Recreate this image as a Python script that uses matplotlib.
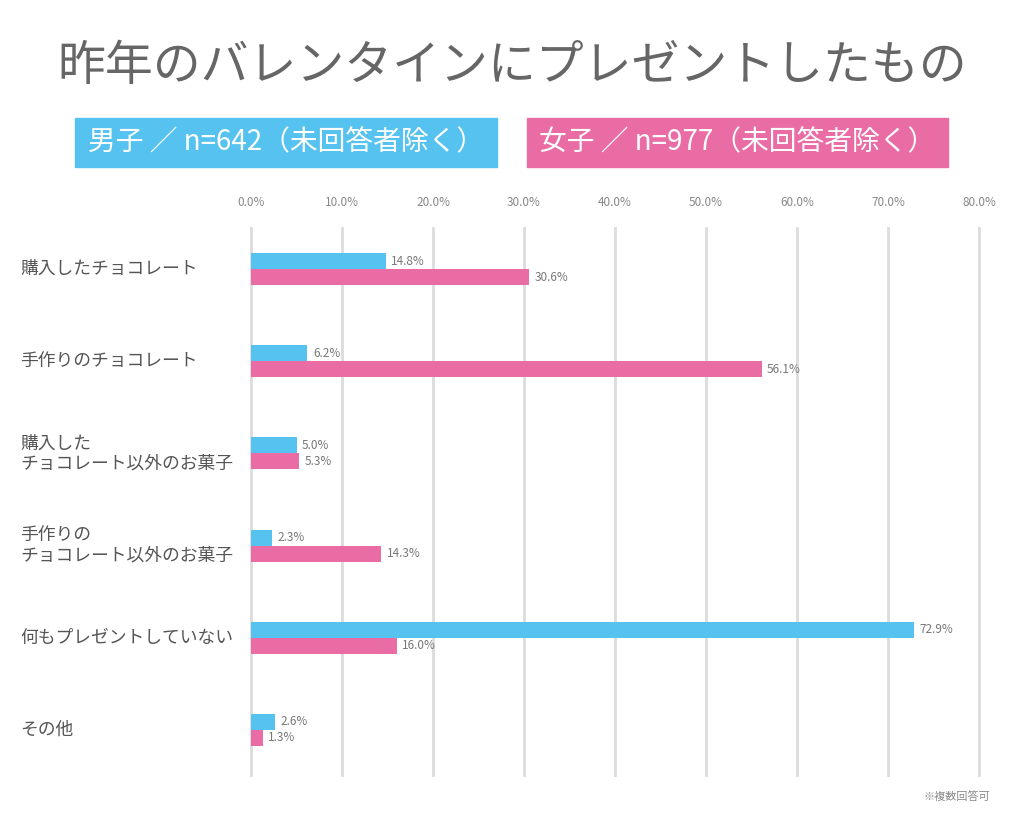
import numpy as np
import matplotlib
matplotlib.use('Agg')
import matplotlib.pyplot as plt
import matplotlib.transforms as mtransforms
from matplotlib.patches import Rectangle

plt.rcParams['font.family'] = ['Noto Sans CJK JP', 'DejaVu Sans']

# data ======================================================================
categories = ['購入したチョコレート', '手作りのチョコレート', '購入した\nチョコレート以外のお菓子',
              '手作りの\nチョコレート以外のお菓子', '何もプレゼントしていない', 'その他']
men = [14.8, 6.2, 5.0, 2.3, 72.9, 2.6]
women = [30.6, 56.1, 5.3, 14.3, 16.0, 1.3]
xticks = [0, 10, 20, 30, 40, 50, 60, 70, 80]

title = '昨年のバレンタインにプレゼントしたもの'
men_label = '男子 ／ n=642（未回答者除く）'
women_label = '女子 ／ n=977（未回答者除く）'
note = '※複数回答可'

blue = '#55C2F0'
pink = '#E96CA4'

# figure ====================================================================
W, H = 1024, 819
fig = plt.figure(figsize=(W / 100, H / 100), dpi=100)
ax = fig.add_axes([251 / W, 1 - 775 / H, 728 / W, (775 - 228) / H])

y = np.arange(len(categories))
bh = 0.174
ax.barh(y - bh / 2, men, height=bh, color=blue, zorder=3)
ax.barh(y + bh / 2, women, height=bh, color=pink, zorder=3)

for i in range(len(categories)):
    ax.text(men[i] + 0.6, y[i] - bh / 2, f'{men[i]:.1f}%', va='center', ha='left',
            fontsize=8.5, color='#777777', zorder=4)
    ax.text(women[i] + 0.6, y[i] + bh / 2, f'{women[i]:.1f}%', va='center', ha='left',
            fontsize=8.5, color='#777777', zorder=4)

ax.set_xlim(0, 80)
ax.set_ylim(len(categories) - 1 + 0.49, -0.446)
ax.set_xticks(xticks)
ax.set_xticklabels([f'{t:.1f}%' for t in xticks], fontsize=8.5, color='#888888')
ax.xaxis.tick_top()
ax.tick_params(axis='x', length=0, pad=13.5)
ax.set_yticks([])
ax.grid(axis='x', color='#dcdcdc', linewidth=2, zorder=0)
for g in ax.get_xgridlines():
    g.set_clip_on(False)
for s in ax.spines.values():
    s.set_visible(False)

# category labels
trans = mtransforms.blended_transform_factory(fig.transFigure, ax.transData)
for i, c in enumerate(categories):
    ax.text(20 / W, y[i], c, transform=trans, ha='left', va='center', fontsize=12.8,
            color='#555555', linespacing=1.15)

# title
fig.text(0.5, 1 - 66 / H, title, ha='center', va='center', fontsize=34.5, color='#666666')

# legend boxes
for x0, x1, col, lab in [(75, 497, blue, men_label), (527, 948, pink, women_label)]:
    fig.patches.append(Rectangle((x0 / W, 1 - 167 / H), (x1 - x0) / W, 49 / H,
                                 transform=fig.transFigure, color=col, zorder=1))
    fig.text((x0 + x1) / 2 / W, 1 - 142 / H, lab, ha='center', va='center',
             fontsize=20, color='white', zorder=2)

fig.text(990 / W, 1 - 797 / H, note, ha='right', va='center', fontsize=8, color='#888888')

fig.savefig('out.png', dpi=100, facecolor='white')
